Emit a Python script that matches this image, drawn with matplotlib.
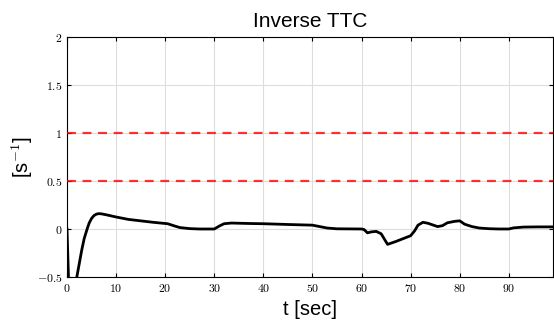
import matplotlib
matplotlib.use("Agg")
import matplotlib.pyplot as plt
import numpy as np

# inverse TTC trace
t = [0, 0.3, 0.6, 1.2, 2.0, 2.5, 3.0, 3.5, 4.1, 4.5, 5.0, 5.5, 6.0, 6.5, 7.0, 8, 10, 12.5,
     15, 17.5, 19.5, 20.5, 22, 23, 25, 27, 30, 31, 32, 33.5, 35, 37.5, 40, 45, 50, 51.5,
     53, 55, 60, 60.5, 61.2, 62, 63, 64, 65.3, 67, 70, 70.8, 71.5, 72.5, 73.5, 75.5,
     76.5, 77.5, 79, 80, 81, 82.5, 84, 86, 88, 90, 91, 93, 96, 99]
ittc = [0, -0.5, -0.9, -0.9, -0.5, -0.36, -0.22, -0.1, 0.0, 0.06, 0.11, 0.14, 0.155,
        0.16, 0.158, 0.148, 0.125, 0.1, 0.085, 0.07, 0.06, 0.055, 0.03, 0.015, 0.004,
        0.0, 0.0, 0.03, 0.055, 0.062, 0.06, 0.057, 0.055, 0.047, 0.04, 0.025, 0.01,
        0.002, 0.0, -0.005, -0.04, -0.03, -0.025, -0.05, -0.16, -0.13, -0.07, -0.02,
        0.04, 0.07, 0.06, 0.025, 0.035, 0.065, 0.08, 0.085, 0.05, 0.025, 0.01, 0.003,
        0.0, 0.0, 0.012, 0.02, 0.022, 0.022]
thresholds = [1.0, 0.5]

xticks = [0, 10, 20, 30, 40, 50, 60, 70, 80, 90]
yticks = [-0.5, 0, 0.5, 1, 1.5, 2]

plt.rcParams['mathtext.fontset'] = 'cm'

fig = plt.figure(figsize=(5.54, 3.27), dpi=100)
ax = fig.add_axes([67 / 554, 50 / 327, 486 / 554, 240 / 327])

for th in thresholds:
    ax.axhline(th, color='red', ls=(0, (4, 3)), lw=1.6, alpha=0.8, zorder=3)
ax.plot(t, ittc, color='black', lw=2.0, zorder=4)

ax.set_xlim(0, 99)
ax.set_ylim(-0.5, 2)
ax.set_xticks(xticks)
ax.set_yticks(yticks)
ax.set_xticklabels([f'${v}$' for v in xticks])
ax.set_yticklabels(['$-0.5$' if v == -0.5 else f'${v:g}$' for v in yticks])
ax.tick_params(direction='in', top=True, right=True, labelsize=8.5, length=3, width=0.8)
ax.grid(True, color='#dddddd', lw=0.8)
ax.set_axisbelow(True)
for s in ax.spines.values():
    s.set_linewidth(0.8)

ax.set_title('Inverse TTC', fontsize=15, family='Liberation Sans', pad=7)
ax.set_xlabel('t [sec]', fontsize=14.5, family='Liberation Sans', labelpad=4)
ax.set_ylabel('[s$^{\\mathsf{-1}}$]', fontsize=14.5, family='Liberation Sans')
ax.yaxis.set_label_coords(-0.066, 0.5)

fig.savefig('out.png', dpi=100)
